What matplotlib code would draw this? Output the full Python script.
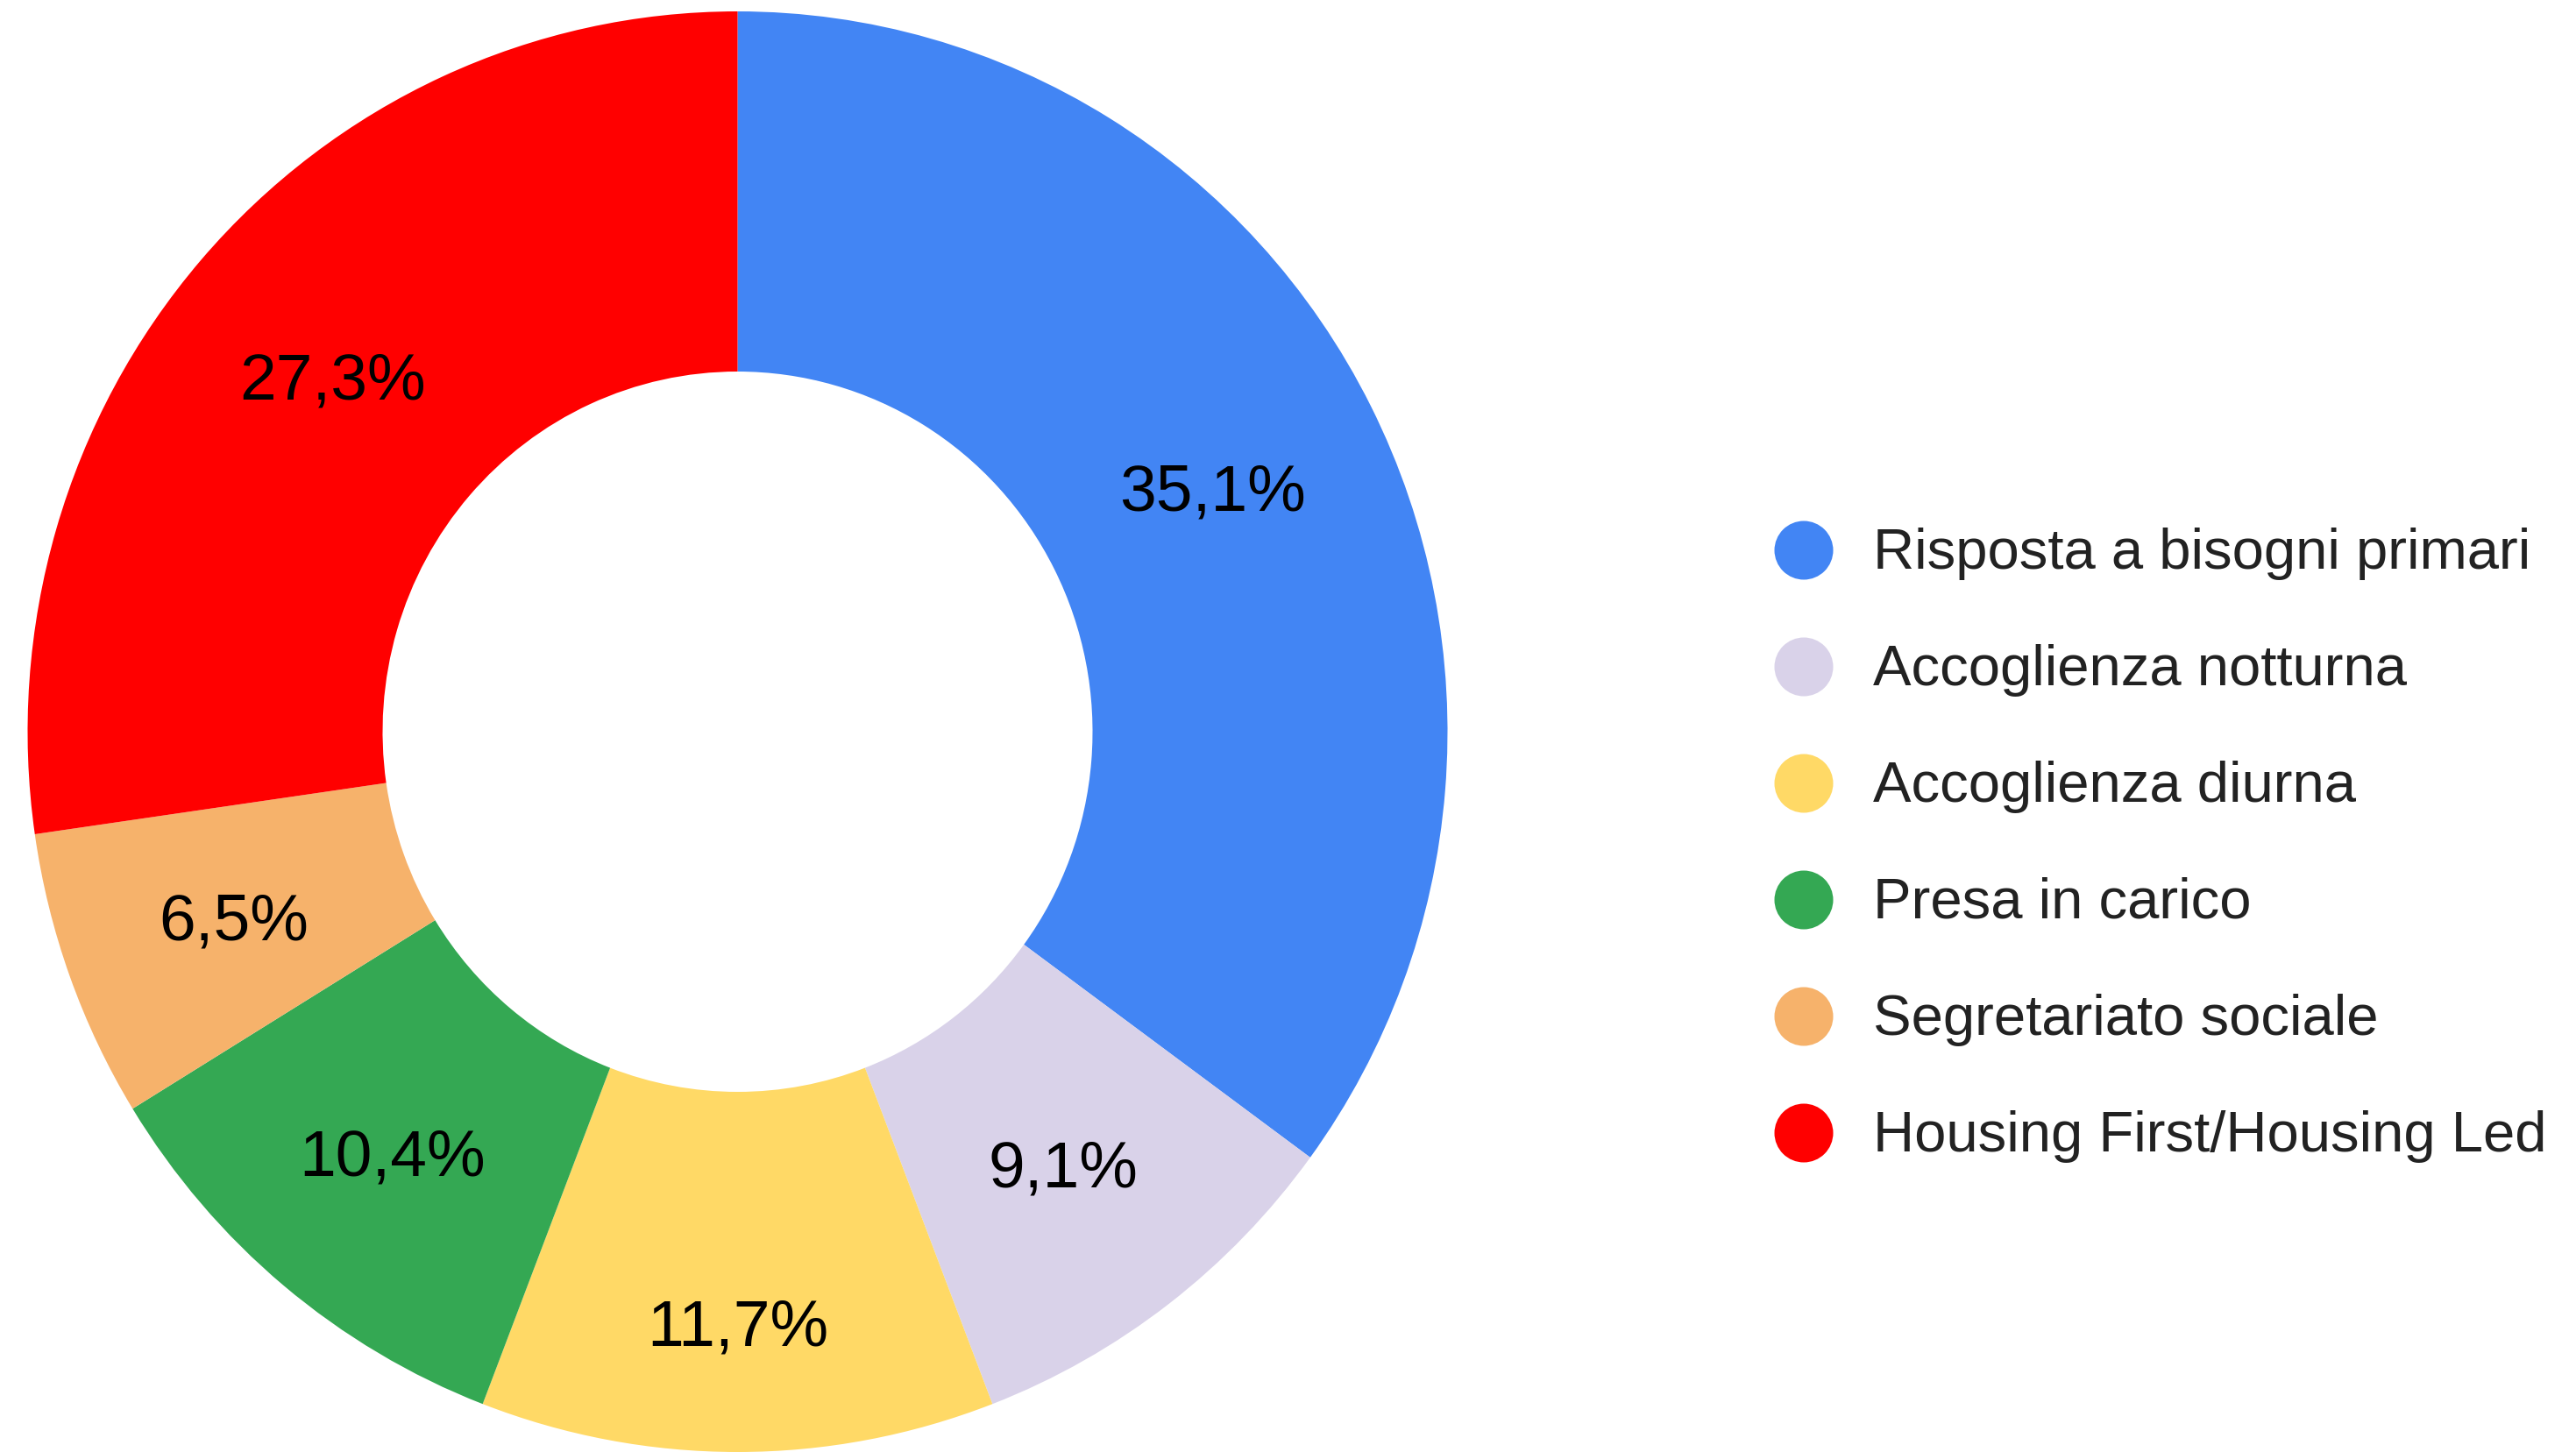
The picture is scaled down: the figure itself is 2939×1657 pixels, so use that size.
import matplotlib.pyplot as plt
import numpy as np
from matplotlib.patches import Circle
from matplotlib.transforms import offset_copy

plt.rcParams['font.family'] = ['Liberation Sans', 'DejaVu Sans']

categories = ['Risposta a bisogni primari', 'Accoglienza notturna', 'Accoglienza diurna',
              'Presa in carico', 'Segretariato sociale', 'Housing First/Housing Led']
values = [35.1, 9.1, 11.7, 10.4, 6.5, 27.3]
colors = ['#4285F4', '#D9D2E9', '#FFD966', '#34A853', '#F6B26B', '#FF0000']
# radial position of each percentage label (fraction of outer radius)
label_dist = [0.75, 0.755, 0.82, 0.76, 0.755, 0.755]

W, H = 2939, 1658
fig = plt.figure(figsize=(W / 100, H / 100), dpi=100)

# donut (slightly taller than wide, like the reference)
cx, cy, rx, ry = 841.5, 836, 810, 822
ax = fig.add_axes([(cx - rx) / W, (H - cy - ry) / H, 2 * rx / W, 2 * ry / H])
wedges, texts = ax.pie(values, colors=colors, startangle=90, counterclock=False,
                       wedgeprops=dict(width=0.5, linewidth=0))
tr = offset_copy(ax.transData, fig=fig, x=0, y=-6, units='dots')
for w, v, d in zip(wedges, values, label_dist):
    ang = np.deg2rad((w.theta1 + w.theta2) / 2)
    ax.text(d * np.cos(ang), d * np.sin(ang), f"{v:.1f}%".replace('.', ','),
            ha='center', va='center', fontsize=54, color='black', transform=tr)
ax.set_aspect('auto')
ax.set_xlim(-1, 1)
ax.set_ylim(-1, 1)

# legend
lg = fig.add_axes([0, 0, 1, 1])
lg.set_xlim(0, W)
lg.set_ylim(H, 0)
lg.axis('off')
y0, step = 629, 133
for i, (name, c) in enumerate(zip(categories, colors)):
    y = y0 + i * step
    lg.add_patch(Circle((2058, y), 33.5, color=c, lw=0))
    lg.text(2137, y + 3, name, ha='left', va='center', fontsize=47, color='#222222')

fig.savefig('out.png', dpi=100)
